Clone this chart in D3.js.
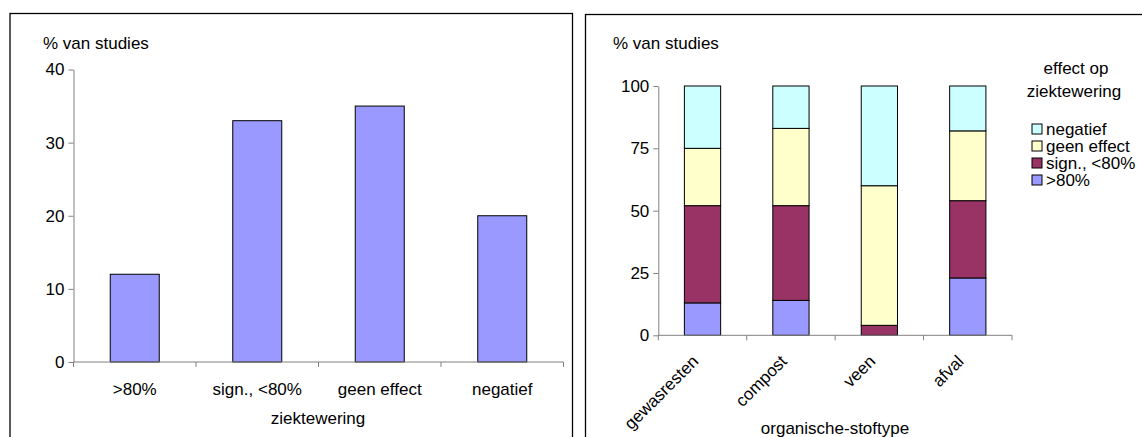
<!DOCTYPE html>
<html>
<head>
<meta charset="utf-8">
<script src="https://cdn.jsdelivr.net/npm/d3@7"></script>
<style>
  body { margin: 0; background: #fff; }
  svg text { font-family: "Liberation Sans", Arial, sans-serif; fill: #000; }
</style>
</head>
<body>
<svg id="chart" width="1142" height="437"></svg>
<script>
// linker grafiek: effect op ziektewering
const klassen = [">80%", "sign., <80%", "geen effect", "negatief"];
const pctStudies = [12, 33, 35, 20];
const tickLinks = [0, 10, 20, 30, 40];

// rechter grafiek: per organische-stoftype
const groepen = ["gewasresten", "compost", "veen", "afval"];
const pctHoog = [13, 14, 0, 23];
const pctSign = [39, 38, 4, 31];
const pctGeen = [23, 31, 56, 28];
const pctNeg = [25, 17, 40, 18];
const tickRechts = [0, 25, 50, 75, 100];

const kleuren = ["#9999ff", "#993366", "#ffffcc", "#ccffff"];
const fs = "17px";

const svg = d3.select("#chart");

// kaders
svg.append("rect").attr("x", 10).attr("y", 13.5).attr("width", 562.5).attr("height", 440)
  .attr("fill", "none").attr("stroke", "#000").attr("stroke-width", 1.3);
svg.append("rect").attr("x", 585.5).attr("y", 14.5).attr("width", 600).attr("height", 440)
  .attr("fill", "none").attr("stroke", "#000").attr("stroke-width", 1.3);

function assen(g, x, y, ticks, y0) {
  const ya = g.append("g").attr("transform", "translate(" + x.range()[0] + ",0)")
    .call(d3.axisLeft(y).tickValues(ticks).tickSize(5).tickSizeOuter(0).tickPadding(4));
  ya.select(".domain").attr("stroke", "#808080");
  ya.selectAll(".tick line").attr("stroke", "#808080");
  ya.selectAll("text").style("font-size", fs);

  const xa = g.append("g");
  xa.append("line").attr("x1", x.range()[0]).attr("x2", x.range()[1])
    .attr("y1", y0).attr("y2", y0).attr("stroke", "#808080");
  const grenzen = d3.range(x.domain().length + 1).map(i => x.range()[0] + i * x.step());
  xa.selectAll(".xt").data(grenzen).join("line")
    .attr("x1", d => d).attr("x2", d => d).attr("y1", y0).attr("y2", y0 + 5)
    .attr("stroke", "#808080");
}

// ---------- links ----------
const gL = svg.append("g");
const xL = d3.scaleBand().domain(klassen).range([73.5, 563.5]).padding(0);
const yL = d3.scaleLinear().domain([0, 40]).range([362, 69.5]);

gL.selectAll(".bar").data(klassen).join("rect")
  .attr("x", d => xL(d) + xL.bandwidth() * 0.3)
  .attr("width", xL.bandwidth() * 0.4)
  .attr("y", (d, i) => yL(pctStudies[i]))
  .attr("height", (d, i) => yL(0) - yL(pctStudies[i]))
  .attr("fill", kleuren[0]).attr("stroke", "#000").attr("stroke-width", 1);

assen(gL, xL, yL, tickLinks, yL(0));

gL.selectAll(".cat").data(klassen).join("text")
  .attr("x", d => xL(d) + xL.bandwidth() / 2).attr("y", 395)
  .attr("text-anchor", "middle").style("font-size", fs).text(d => d);

gL.append("text").attr("x", 43).attr("y", 49).style("font-size", fs).text("% van studies");
gL.append("text").attr("x", 318).attr("y", 424).attr("text-anchor", "middle")
  .style("font-size", fs).text("ziektewering");

// ---------- rechts ----------
const gR = svg.append("g");
const xR = d3.scaleBand().domain(groepen).range([658.3, 1012]).padding(0);
const yR = d3.scaleLinear().domain([0, 100]).range([335.3, 86]);

const sleutels = [">80%", "sign., <80%", "geen effect", "negatief"];
const reeksen = [pctHoog, pctSign, pctGeen, pctNeg];
const rijen = groepen.map((g, i) => {
  const r = { groep: g };
  sleutels.forEach((k, j) => { r[k] = reeksen[j][i]; });
  return r;
});
const stapel = d3.stack().keys(sleutels)(rijen);

gR.selectAll(".laag").data(stapel).join("g")
  .attr("fill", (d, i) => kleuren[i])
  .selectAll("rect").data(d => d.filter(s => s[1] - s[0] > 0)).join("rect")
  .attr("x", d => xR(d.data.groep) + xR.bandwidth() * 0.295)
  .attr("width", xR.bandwidth() * 0.41)
  .attr("y", d => yR(d[1]))
  .attr("height", d => yR(d[0]) - yR(d[1]))
  .attr("stroke", "#000").attr("stroke-width", 1);

assen(gR, xR, yR, tickRechts, yR(0));

gR.selectAll(".cat").data(groepen).join("text")
  .attr("text-anchor", "end").style("font-size", fs)
  .attr("transform", d => "translate(" + (xR(d) + xR.bandwidth() / 2 - 3) + "," + (yR(0) + 27) + ") rotate(-45)")
  .text(d => d);

gR.append("text").attr("x", 613).attr("y", 49).style("font-size", fs).text("% van studies");
gR.append("text").attr("x", 835).attr("y", 434).attr("text-anchor", "middle")
  .style("font-size", fs).text("organische-stoftype");

// legenda
const leg = gR.append("g");
leg.append("text").attr("x", 1076).attr("y", 74).attr("text-anchor", "middle")
  .style("font-size", fs).text("effect op");
leg.append("text").attr("x", 1074).attr("y", 97).attr("text-anchor", "middle")
  .style("font-size", fs).text("ziektewering");
const legItems = sleutels.map((k, i) => ({ k: k, c: kleuren[i] })).reverse();
const li = leg.selectAll(".li").data(legItems).join("g")
  .attr("transform", (d, i) => "translate(1032," + (129 + i * 17) + ")");
li.append("rect").attr("x", 0).attr("y", -5).attr("width", 10).attr("height", 10)
  .attr("fill", d => d.c).attr("stroke", "#000").attr("stroke-width", 1);
li.append("text").attr("x", 14).attr("y", 6).style("font-size", fs).text(d => d.k);
</script>
</body>
</html>
